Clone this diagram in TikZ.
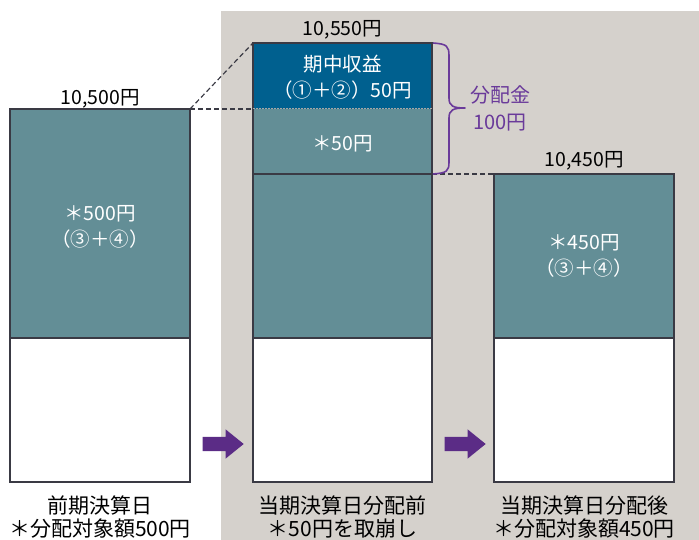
\documentclass[tikz,border=0pt]{standalone}
\usepackage{fontspec}
\setmainfont{Noto Sans CJK JP}
\usetikzlibrary{shapes.arrows}
\definecolor{tealc}{HTML}{638E96}
\definecolor{bluec}{HTML}{00608F}
\definecolor{bgc}{HTML}{D5D1CC}
\definecolor{edgec}{HTML}{3A3A44}
\definecolor{purp}{HTML}{5B2C86}
\definecolor{bracec}{HTML}{6A3A9A}
\tikzset{
  box/.style={draw=edgec, line width=1.5pt, anchor=north west, inner sep=0pt, outer sep=0pt},
  fillbox/.style={anchor=north west, inner sep=0pt, outer sep=0pt},
  wtxt/.style={text=white, align=center, font=\fontsize{19.5}{26}\selectfont, inner sep=0pt},
  btxt/.style={text=black, align=center, font=\fontsize{21}{23.5}\selectfont, inner sep=0pt},
  vtxt/.style={text=black, anchor=base, font=\fontsize{19.5}{24}\selectfont, inner sep=0pt},
  dashln/.style={draw=edgec, line width=1.2pt, dash pattern=on 5pt off 3pt},
  dotln/.style={draw=gray!70, line width=1pt, dash pattern=on 1.5pt off 1.5pt},
  blockarrow/.style={single arrow, fill=purp, draw=none, inner xsep=0pt, inner ysep=7pt,
    minimum height=41pt, single arrow head extend=7.5pt, single arrow tip angle=78, anchor=tip},
}
\begin{document}
\begin{tikzpicture}[x=1pt,y=-1pt]
\useasboundingbox (0,0) rectangle (699,540);
\fill[bgc] (221,11) rectangle (699,540);
% box 1
\node[box, fill=tealc, minimum width=180pt, minimum height=229pt] (b1t) at (10,109) {};
\node[box, fill=white, minimum width=180pt, minimum height=144pt] (b1w) at (10,338) {};
% box 2
\node[fillbox, fill=bluec, minimum width=179pt, minimum height=66pt] (b2a) at (253,43) {};
\node[fillbox, fill=tealc, minimum width=179pt, minimum height=65pt] (b2b) at (253,109) {};
\draw[edgec, line width=1.5pt] (b2a.north west) rectangle (b2b.south east);
\node[box, fill=tealc, minimum width=179pt, minimum height=164pt] (b2c) at (253,174) {};
\node[box, fill=white, minimum width=179pt, minimum height=144pt] (b2w) at (253,338) {};
% box 3
\node[box, fill=tealc, minimum width=180pt, minimum height=164pt] (b3t) at (494,174) {};
\node[box, fill=white, minimum width=180pt, minimum height=144pt] (b3w) at (494,338) {};
% dashed guides
\draw[dashln] (b1t.north east) -- (b2a.north west);
\draw[dashln] (b1t.north east) -- (b2b.north west);
\draw[dotln] (b2b.north west) -- (b2b.north east);
\draw[dashln] (b2c.north east) -- (b3t.north west);
% brace
\coordinate (brtop) at ([xshift=1pt]b2a.north east);
\coordinate (brbot) at ([xshift=1pt]b2b.south east);
\coordinate (brtip) at (465,108);
\draw[bracec, line width=1.6pt, line join=round]
  (brtop) .. controls (447,44) and (449,46) .. (449,56) -- (449,98)
  .. controls (449,106) and (453,108) .. (brtip)
  .. controls (453,108) and (449,110) .. (449,118) -- (449,162)
  .. controls (449,171) and (447,173) .. (brbot);
\node[text=bracec, align=center, font=\fontsize{20}{27}\selectfont, inner sep=0pt] (brtxt) at (500,108) {分配金\\100円};
% value labels
\node[vtxt] (v1) at ([yshift=4pt]b1t.north) {10,500円};
\node[vtxt] (v2) at ([yshift=7pt]b2a.north) {10,550円};
\node[vtxt] (v3) at ([yshift=7pt]b3t.north) {10,450円};
% box texts
\node[wtxt] (t1) at ([yshift=-3pt]b1t.center) {＊500円\\（③＋④）};
\node[wtxt] (t2a) at ([yshift=-1pt]b2a.center) {期中収益\\（①＋②）50円};
\node[wtxt] (t2b) at ([yshift=-2pt]b2b.center) {＊50円};
\node[wtxt] (t3) at (b3t.center) {＊450円\\（③＋④）};
% arrows
\node[blockarrow] (ar1) at (244,444) {};
\node[blockarrow] (ar2) at (486,444) {};
% bottom labels
\node[btxt] (l1) at ([yshift=-35pt]b1w.south) {前期決算日\\＊分配対象額500円};
\node[btxt] (l2) at ([yshift=-35pt]b2w.south) {当期決算日分配前\\＊50円を取崩し};
\node[btxt] (l3) at ([yshift=-35pt]b3w.south) {当期決算日分配後\\＊分配対象額450円};
\end{tikzpicture}
\end{document}
